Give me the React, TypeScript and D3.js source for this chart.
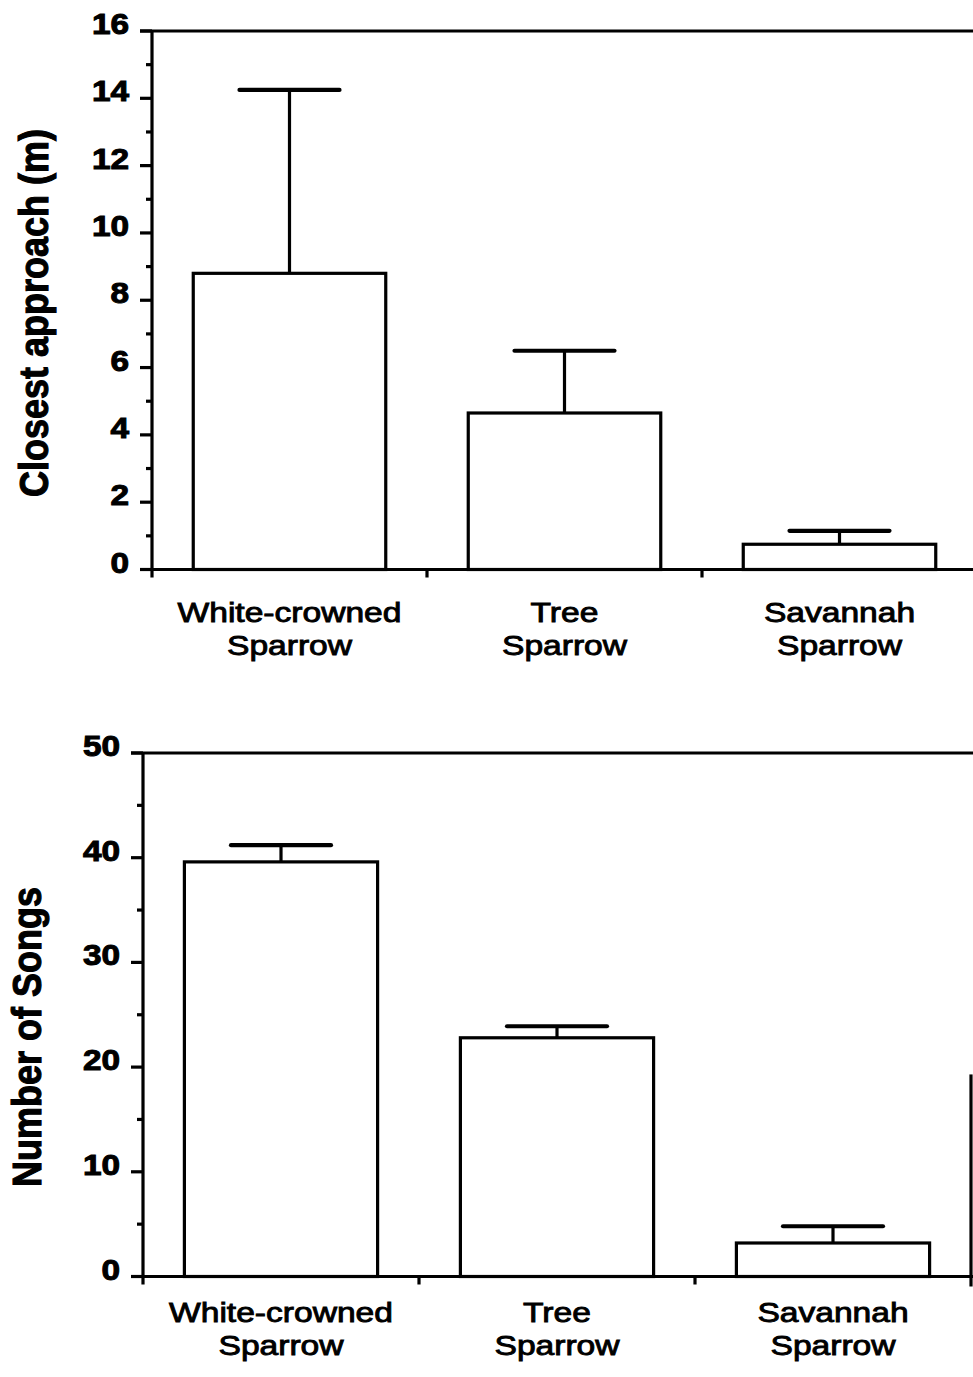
import React from 'react';
import * as d3 from 'd3';

// species on the x axis (two-line labels)
const categories = ['White-crowned Sparrow', 'Tree Sparrow', 'Savannah Sparrow'];
const labelLines = [
  ['White-crowned', 'Sparrow'],
  ['Tree', 'Sparrow'],
  ['Savannah', 'Sparrow'],
];

// panel A: closest approach (m), mean and upper error bar
const approachMean = [8.8, 4.65, 0.75];
const approachUpper = [14.25, 6.5, 1.15];
const approachTicks = [0, 2, 4, 6, 8, 10, 12, 14, 16];
const approachMinor = [1, 3, 5, 7, 9, 11, 13, 15];

// panel B: number of songs
const songsMean = [39.6, 22.8, 3.2];
const songsUpper = [41.2, 23.9, 4.8];
const songsTicks = [0, 10, 20, 30, 40, 50];
const songsMinor = [5, 15, 25, 35, 45];
const songsEdgeValue = 19.3; // cropped frame piece at right edge

const W = 973;
const H = 1377;
const FONT = '"Liberation Sans", Arial, Helvetica, sans-serif';
const SW = 3.2;

interface PanelProps {
  axisX: number;
  top: number;
  bottom: number;
  max: number;
  ticks: number[];
  minor: number[];
  means: number[];
  uppers: number[];
  title: string;
  titleX: number;
  titleY: number;
  labelY: number;
  step: number;
  edgeValue?: number;
}

const Panel = (p: PanelProps) => {
  const y = d3.scaleLinear().domain([0, p.max]).range([p.bottom, p.top]);
  const x = d3.scaleBand<string>()
    .domain(categories)
    .range([p.axisX, p.axisX + p.step * categories.length])
    .paddingInner(0)
    .paddingOuter(0);
  const barW = x.bandwidth() * 0.7;
  const capHalf = 50;

  return (
    <g>
      {/* frame top, y axis and x axis */}
      <line x1={p.axisX - 12} x2={W} y1={y(p.max)} y2={y(p.max)} stroke="#000" strokeWidth={SW} />
      <line x1={p.axisX} x2={p.axisX} y1={y(p.max)} y2={y(0) + 8} stroke="#000" strokeWidth={SW} />
      <line x1={p.axisX - 12} x2={W} y1={y(0)} y2={y(0)} stroke="#000" strokeWidth={SW} />

      {p.ticks.map(t => (
        <g key={'t' + t}>
          <line x1={p.axisX - 12} x2={p.axisX} y1={y(t)} y2={y(t)} stroke="#000" strokeWidth={SW} />
          <text
            transform={`translate(${p.axisX - 23},${y(t) + 3}) scale(1.15,1)`}
            textAnchor="end"
            fontFamily={FONT}
            fontWeight="bold"
            fontSize={29}
            stroke="#000"
            strokeWidth={1}
          >
            {t}
          </text>
        </g>
      ))}
      {p.minor.map(t => (
        <line key={'m' + t} x1={p.axisX - 6} x2={p.axisX} y1={y(t)} y2={y(t)} stroke="#000" strokeWidth={SW} />
      ))}

      {/* x ticks between categories */}
      {categories.slice(1).map(c => (
        <line key={'xt' + c} x1={x(c)!} x2={x(c)!} y1={y(0)} y2={y(0) + 8} stroke="#000" strokeWidth={SW} />
      ))}

      {categories.map((c, i) => {
        const cx = x(c)! + x.bandwidth() / 2;
        return (
          <g key={c}>
            <line x1={cx} x2={cx} y1={y(p.means[i])} y2={y(p.uppers[i])} stroke="#000" strokeWidth={SW} />
            <line x1={cx - capHalf} x2={cx + capHalf} y1={y(p.uppers[i])} y2={y(p.uppers[i])} stroke="#000" strokeWidth={SW + 1} strokeLinecap="round" />
            <rect
              x={cx - barW / 2}
              y={y(p.means[i])}
              width={barW}
              height={y(0) - y(p.means[i])}
              fill="#fff"
              stroke="#000"
              strokeWidth={SW}
            />
            {labelLines[i].map((ln, j) => (
              <text
                key={ln}
                transform={`translate(${cx},${p.labelY + j * 33}) scale(1.2,1)`}
                textAnchor="middle"
                fontFamily={FONT}
                fontSize={28}
                stroke="#000"
                strokeWidth={0.9}
              >
                {ln}
              </text>
            ))}
          </g>
        );
      })}

      {p.edgeValue !== undefined && (
        <line x1={W - 2} x2={W - 2} y1={y(p.edgeValue)} y2={y(0) + 10} stroke="#000" strokeWidth={SW} />
      )}

      <text
        transform={`translate(${p.titleX},${p.titleY}) rotate(-90) scale(1,1.12)`}
        textAnchor="middle"
        fontFamily={FONT}
        fontWeight="bold"
        fontSize={36}
        stroke="#000"
        strokeWidth={1}
      >
        {p.title}
      </text>
    </g>
  );
};

export default function App() {
  return (
    <svg
      width={W}
      height={H}
      style={{ position: 'absolute', left: 0, top: 0, background: '#fff' }}
    >
      <rect width={W} height={H} fill="#fff" />
      <Panel
        axisX={152}
        top={31}
        bottom={569.5}
        max={16}
        ticks={approachTicks}
        minor={approachMinor}
        means={approachMean}
        uppers={approachUpper}
        title="Closest approach (m)"
        titleX={48}
        titleY={313}
        labelY={622}
        step={275}
      />
      <Panel
        axisX={143}
        top={753}
        bottom={1276.5}
        max={50}
        ticks={songsTicks}
        minor={songsMinor}
        means={songsMean}
        uppers={songsUpper}
        title="Number of Songs"
        titleX={41}
        titleY={1037}
        labelY={1322}
        step={276}
        edgeValue={songsEdgeValue}
      />
    </svg>
  );
}
